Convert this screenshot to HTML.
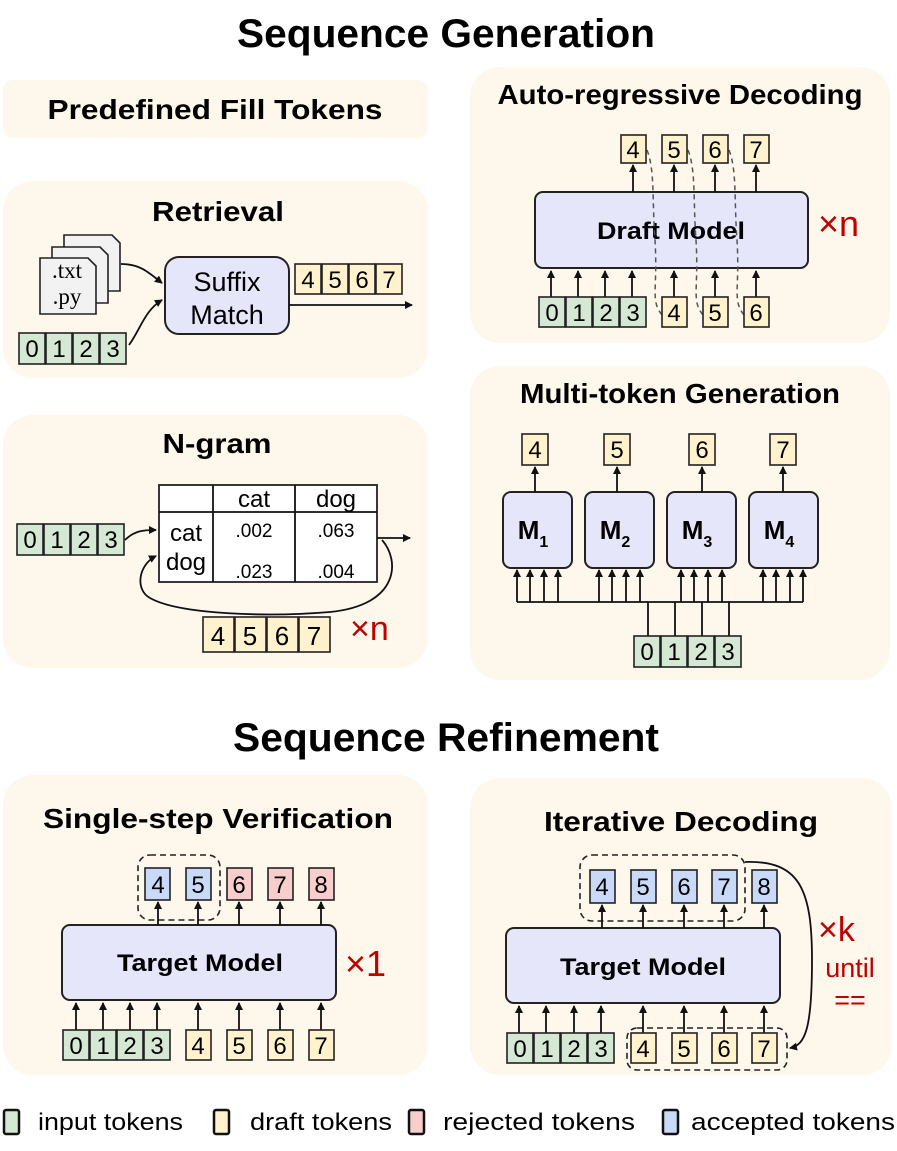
<!DOCTYPE html>
<html><head><meta charset="utf-8"><style>
body{margin:0;background:#fff}
svg{display:block;font-family:"Liberation Sans",Arial,sans-serif}
.p{fill:#fef7ec}
.g{fill:#d5e8d4;stroke:#222;stroke-width:1.6}
.y{fill:#fff2cc;stroke:#222;stroke-width:1.6}
.r{fill:#f8cecc;stroke:#222;stroke-width:1.6}
.b{fill:#c9daf8;stroke:#222;stroke-width:1.6}
.m{fill:#e6e6fb;stroke:#222;stroke-width:2}
.t{font-size:24px;text-anchor:middle}
.h{font-size:28px;font-weight:bold;text-anchor:middle}
.a{stroke:#111;stroke-width:1.8;fill:none;marker-end:url(#ar)}
.l{stroke:#111;stroke-width:1.8;fill:none}
.d{stroke:#555;stroke-width:1.5;fill:none;stroke-dasharray:5,4}
.dd{stroke:#222;stroke-width:1.6;fill:none;stroke-dasharray:6,4}
.red{fill:#c00000}
</style></head><body>
<svg width="897" height="1151" viewBox="0 0 897 1151">
<defs><marker id="ar" markerWidth="8" markerHeight="8" refX="7" refY="4" orient="auto" markerUnits="userSpaceOnUse"><path d="M0,0 L8,4 L0,8 z" fill="#111"/></marker></defs>
<!-- panels -->
<rect class="p" x="3" y="80" width="425" height="58" rx="10"/>
<rect class="p" x="3" y="181" width="425" height="197" rx="30"/>
<rect class="p" x="3" y="415" width="425" height="253" rx="30"/>
<rect class="p" x="470" y="67" width="420" height="276" rx="30"/>
<rect class="p" x="470" y="366" width="420" height="314" rx="30"/>
<rect class="p" x="3" y="775" width="425" height="300" rx="30"/>
<rect class="p" x="470" y="778" width="422" height="297" rx="30"/>

<text x="446" y="47" font-size="40" font-weight="bold" text-anchor="middle" textLength="418" lengthAdjust="spacingAndGlyphs">Sequence Generation</text>
<text x="446" y="751" font-size="40" font-weight="bold" text-anchor="middle" textLength="426" lengthAdjust="spacingAndGlyphs">Sequence Refinement</text>
<text class="h" x="215" y="119" textLength="335" lengthAdjust="spacingAndGlyphs">Predefined Fill Tokens</text>
<text class="h" x="218" y="221" textLength="132" lengthAdjust="spacingAndGlyphs">Retrieval</text>
<text class="h" x="217" y="453" textLength="109" lengthAdjust="spacingAndGlyphs">N-gram</text>
<text class="h" x="680" y="104" textLength="365" lengthAdjust="spacingAndGlyphs">Auto-regressive Decoding</text>
<text class="h" x="680" y="403" textLength="320" lengthAdjust="spacingAndGlyphs">Multi-token Generation</text>
<text class="h" x="218" y="828" textLength="350" lengthAdjust="spacingAndGlyphs">Single-step Verification</text>
<text class="h" x="681" y="831" textLength="274" lengthAdjust="spacingAndGlyphs">Iterative Decoding</text>

<!-- Retrieval -->
<path d="M64,235 H112 L120,243 V291 H64 Z" fill="#f2f2f2" stroke="#222" stroke-width="1.6"/>
<path d="M52,247 H100 L108,255 V303 H52 Z" fill="#f2f2f2" stroke="#222" stroke-width="1.6"/>
<path d="M40,258 H88 L96,266 V314 H40 Z" fill="#f2f2f2" stroke="#222" stroke-width="1.6"/>
<text x="67" y="278" font-family="Liberation Serif,serif" font-size="23" text-anchor="middle">.txt</text>
<text x="67" y="304" font-family="Liberation Serif,serif" font-size="23" text-anchor="middle">.py</text>
<rect class="m" x="165" y="257" width="124" height="77" rx="14"/>
<text class="t" x="227" y="291" font-size="27" style="font-size:27px">Suffix</text>
<text class="t" x="227" y="324" style="font-size:27px">Match</text>
<path class="a" d="M121,264 C140,264 148,272 162,283"/>
<path class="a" d="M129,345 C140,330 145,310 162,300"/>
<path class="a" d="M289,305 H412"/>
<g class="t">
<rect class="g" x="19" y="333" width="26" height="31"/><rect class="g" x="46" y="333" width="26" height="31"/><rect class="g" x="73" y="333" width="26" height="31"/><rect class="g" x="100" y="333" width="26" height="31"/>
<text x="32" y="357">0</text><text x="59" y="357">1</text><text x="86" y="357">2</text><text x="113" y="357">3</text>
<rect class="y" x="295" y="264" width="26" height="30"/><rect class="y" x="322" y="264" width="26" height="30"/><rect class="y" x="349" y="264" width="26" height="30"/><rect class="y" x="376" y="264" width="26" height="30"/>
<text x="308" y="288">4</text><text x="335" y="288">5</text><text x="362" y="288">6</text><text x="389" y="288">7</text>
</g>

<!-- N-gram -->
<rect x="159" y="485" width="218" height="97" fill="#fff" stroke="#222" stroke-width="1.8"/>
<path class="l" d="M159,512 H377 M213,485 V582 M295,485 V582"/>
<g class="t">
<text x="254" y="507">cat</text><text x="336" y="507">dog</text>
<text x="186" y="541">cat</text><text x="186" y="570">dog</text>
<text x="254" y="537" style="font-size:19px">.002</text><text x="336" y="537" style="font-size:19px">.063</text>
<text x="254" y="578" style="font-size:19px">.023</text><text x="336" y="578" style="font-size:19px">.004</text>
<rect class="g" x="17" y="524" width="26" height="31"/><rect class="g" x="44" y="524" width="26" height="31"/><rect class="g" x="71" y="524" width="26" height="31"/><rect class="g" x="98" y="524" width="26" height="31"/>
<text x="30" y="548">0</text><text x="57" y="548">1</text><text x="84" y="548">2</text><text x="111" y="548">3</text>
<rect class="y" x="203" y="617" width="31" height="35"/><rect class="y" x="235" y="617" width="31" height="35"/><rect class="y" x="267" y="617" width="31" height="35"/><rect class="y" x="299" y="617" width="31" height="35"/>
<text x="218" y="645" style="font-size:26px">4</text><text x="250" y="645" style="font-size:26px">5</text><text x="282" y="645" style="font-size:26px">6</text><text x="314" y="645" style="font-size:26px">7</text>
</g>
<text x="350" y="640" font-size="34" class="red">×n</text>
<path class="a" d="M125,540 C135,530 145,530 156,530"/>
<path class="a" d="M377,538 H410"/>
<path class="a" d="M382,540 C400,560 400,605 330,612 C270,617 180,615 150,598 C135,590 138,565 156,556"/>

<!-- Auto-regressive -->
<rect class="m" x="535" y="192" width="273" height="76" rx="8"/>
<text x="671" y="239" font-size="24" font-weight="bold" text-anchor="middle" textLength="148" lengthAdjust="spacingAndGlyphs">Draft Model</text>
<text x="818" y="236" font-size="36" class="red">×n</text>
<path class="d" d="M647,150 C655,170 652,200 655,240 C658,290 650,300 662,315"/>
<path class="d" d="M688,150 C696,170 693,200 696,240 C699,290 691,300 703,315"/>
<path class="d" d="M729,150 C737,170 734,200 737,240 C740,290 732,300 744,315"/>
<g class="a"><path d="M633,192 V165"/><path d="M674,192 V165"/><path d="M715,192 V165"/><path d="M756,192 V165"/>
<path d="M551,297 V271"/><path d="M578,297 V271"/><path d="M605,297 V271"/><path d="M632,297 V271"/><path d="M674,297 V271"/><path d="M715,297 V271"/><path d="M756,297 V271"/></g>
<g class="t">
<rect class="y" x="621" y="135" width="25" height="28"/><rect class="y" x="662" y="135" width="25" height="28"/><rect class="y" x="703" y="135" width="25" height="28"/><rect class="y" x="744" y="135" width="25" height="28"/>
<text x="633" y="158">4</text><text x="674" y="158">5</text><text x="715" y="158">6</text><text x="756" y="158">7</text>
<rect class="g" x="539" y="297" width="26" height="30"/><rect class="g" x="566" y="297" width="26" height="30"/><rect class="g" x="593" y="297" width="26" height="30"/><rect class="g" x="620" y="297" width="26" height="30"/>
<text x="552" y="321">0</text><text x="579" y="321">1</text><text x="606" y="321">2</text><text x="633" y="321">3</text>
<rect class="y" x="662" y="297" width="25" height="30"/><rect class="y" x="703" y="297" width="25" height="30"/><rect class="y" x="744" y="297" width="25" height="30"/>
<text x="674" y="321">4</text><text x="715" y="321">5</text><text x="756" y="321">6</text>
</g>

<!-- Multi-token -->
<g>
<rect class="m" x="503" y="492" width="69" height="76" rx="8"/><rect class="m" x="585" y="492" width="69" height="76" rx="8"/><rect class="m" x="667" y="492" width="69" height="76" rx="8"/><rect class="m" x="749" y="492" width="69" height="76" rx="8"/>
</g>
<g font-size="26" font-weight="bold" text-anchor="middle">
<text x="533" y="539">M<tspan font-size="16" dy="8">1</tspan></text>
<text x="615" y="539">M<tspan font-size="16" dy="8">2</tspan></text>
<text x="697" y="539">M<tspan font-size="16" dy="8">3</tspan></text>
<text x="779" y="539">M<tspan font-size="16" dy="8">4</tspan></text>
</g>
<g class="a"><path d="M535,492 V467"/><path d="M617,492 V467"/><path d="M702,492 V467"/><path d="M783,492 V467"/></g>
<path class="l" d="M517,602 H803 M648,602 V636 M675,602 V636 M702,602 V636 M729,602 V636"/>
<g class="a">
<path d="M517,602 V570"/><path d="M530,602 V570"/><path d="M544,602 V570"/><path d="M558,602 V570"/>
<path d="M599,602 V570"/><path d="M612,602 V570"/><path d="M626,602 V570"/><path d="M640,602 V570"/>
<path d="M681,602 V570"/><path d="M694,602 V570"/><path d="M708,602 V570"/><path d="M722,602 V570"/>
<path d="M763,602 V570"/><path d="M776,602 V570"/><path d="M790,602 V570"/><path d="M803,602 V570"/>
</g>
<g class="t">
<rect class="y" x="522" y="434" width="26" height="31"/><rect class="y" x="604" y="434" width="26" height="31"/><rect class="y" x="689" y="434" width="26" height="31"/><rect class="y" x="770" y="434" width="26" height="31"/>
<text x="535" y="458">4</text><text x="617" y="458">5</text><text x="702" y="458">6</text><text x="783" y="458">7</text>
<rect class="g" x="634" y="636" width="26" height="31"/><rect class="g" x="661" y="636" width="26" height="31"/><rect class="g" x="688" y="636" width="26" height="31"/><rect class="g" x="715" y="636" width="26" height="31"/>
<text x="647" y="660">0</text><text x="674" y="660">1</text><text x="701" y="660">2</text><text x="728" y="660">3</text>
</g>

<!-- Single-step -->
<rect class="m" x="62" y="925" width="274" height="75" rx="8"/>
<text x="200" y="971" font-size="24" font-weight="bold" text-anchor="middle" textLength="166" lengthAdjust="spacingAndGlyphs">Target Model</text>
<text x="345" y="976" font-size="36" class="red">×1</text>
<rect class="dd" x="138" y="855" width="82" height="65" rx="12"/>
<g class="a"><path d="M158,925 V902"/><path d="M198,925 V902"/><path d="M239,925 V902"/><path d="M280,925 V902"/><path d="M321,925 V902"/>
<path d="M76,1030 V1003"/><path d="M103,1030 V1003"/><path d="M130,1030 V1003"/><path d="M157,1030 V1003"/><path d="M198,1030 V1003"/><path d="M239,1030 V1003"/><path d="M280,1030 V1003"/><path d="M321,1030 V1003"/></g>
<g class="t">
<rect class="b" x="145" y="868" width="25" height="32"/><rect class="b" x="186" y="868" width="25" height="32"/><rect class="r" x="227" y="868" width="25" height="32"/><rect class="r" x="268" y="868" width="25" height="32"/><rect class="r" x="309" y="868" width="25" height="32"/>
<text x="158" y="893">4</text><text x="198" y="893">5</text><text x="239" y="893">6</text><text x="280" y="893">7</text><text x="321" y="893">8</text>
<rect class="g" x="63" y="1030" width="26" height="30"/><rect class="g" x="90" y="1030" width="26" height="30"/><rect class="g" x="117" y="1030" width="26" height="30"/><rect class="g" x="144" y="1030" width="26" height="30"/>
<text x="76" y="1054">0</text><text x="103" y="1054">1</text><text x="130" y="1054">2</text><text x="157" y="1054">3</text>
<rect class="y" x="186" y="1030" width="25" height="30"/><rect class="y" x="227" y="1030" width="25" height="30"/><rect class="y" x="268" y="1030" width="25" height="30"/><rect class="y" x="309" y="1030" width="25" height="30"/>
<text x="198" y="1054">4</text><text x="239" y="1054">5</text><text x="280" y="1054">6</text><text x="321" y="1054">7</text>
</g>

<!-- Iterative -->
<rect class="m" x="506" y="928" width="274" height="75" rx="8"/>
<text x="643" y="975" font-size="24" font-weight="bold" text-anchor="middle" textLength="166" lengthAdjust="spacingAndGlyphs">Target Model</text>
<rect class="dd" x="580" y="855" width="165" height="66" rx="12"/>
<rect class="dd" x="627" y="1028" width="160" height="42" rx="10"/>
<path class="a" d="M745,862 C800,860 812,890 812,960 C812,1030 805,1045 790,1048"/>
<text x="818" y="941" font-size="34" class="red">×k</text>
<text x="850" y="977" font-size="27" class="red" text-anchor="middle">until</text>
<text x="850" y="1009" font-size="27" class="red" text-anchor="middle">==</text>
<g class="a"><path d="M602,928 V905"/><path d="M643,928 V905"/><path d="M684,928 V905"/><path d="M724,928 V905"/><path d="M764,928 V905"/>
<path d="M519,1033 V1006"/><path d="M546,1033 V1006"/><path d="M574,1033 V1006"/><path d="M601,1033 V1006"/><path d="M643,1033 V1006"/><path d="M684,1033 V1006"/><path d="M724,1033 V1006"/><path d="M764,1033 V1006"/></g>
<g class="t">
<rect class="b" x="590" y="870" width="25" height="33"/><rect class="b" x="631" y="870" width="25" height="33"/><rect class="b" x="672" y="870" width="25" height="33"/><rect class="b" x="712" y="870" width="25" height="33"/><rect class="b" x="752" y="870" width="25" height="33"/>
<text x="602" y="895">4</text><text x="643" y="895">5</text><text x="684" y="895">6</text><text x="724" y="895">7</text><text x="764" y="895">8</text>
<rect class="g" x="507" y="1033" width="26" height="30"/><rect class="g" x="534" y="1033" width="26" height="30"/><rect class="g" x="561" y="1033" width="26" height="30"/><rect class="g" x="588" y="1033" width="26" height="30"/>
<text x="520" y="1057">0</text><text x="547" y="1057">1</text><text x="574" y="1057">2</text><text x="601" y="1057">3</text>
<rect class="y" x="631" y="1033" width="25" height="30"/><rect class="y" x="672" y="1033" width="25" height="30"/><rect class="y" x="712" y="1033" width="25" height="30"/><rect class="y" x="752" y="1033" width="25" height="30"/>
<text x="643" y="1057">4</text><text x="684" y="1057">5</text><text x="724" y="1057">6</text><text x="764" y="1057">7</text>
</g>

<!-- legend -->
<g font-size="24">
<rect x="4" y="1110" width="15" height="24" rx="2" fill="#d5e8d4" stroke="#111" stroke-width="2.5"/>
<text x="38" y="1130" textLength="145" lengthAdjust="spacingAndGlyphs">input tokens</text>
<rect x="214" y="1110" width="15" height="24" rx="2" fill="#fff2cc" stroke="#111" stroke-width="2.5"/>
<text x="250" y="1130" textLength="142" lengthAdjust="spacingAndGlyphs">draft tokens</text>
<rect x="409" y="1110" width="15" height="24" rx="2" fill="#f8cecc" stroke="#111" stroke-width="2.5"/>
<text x="443" y="1130" textLength="192" lengthAdjust="spacingAndGlyphs">rejected  tokens</text>
<rect x="663" y="1110" width="15" height="24" rx="2" fill="#c9daf8" stroke="#111" stroke-width="2.5"/>
<text x="691" y="1130" textLength="204" lengthAdjust="spacingAndGlyphs">accepted  tokens</text>
</g>
</svg>
</body></html>
